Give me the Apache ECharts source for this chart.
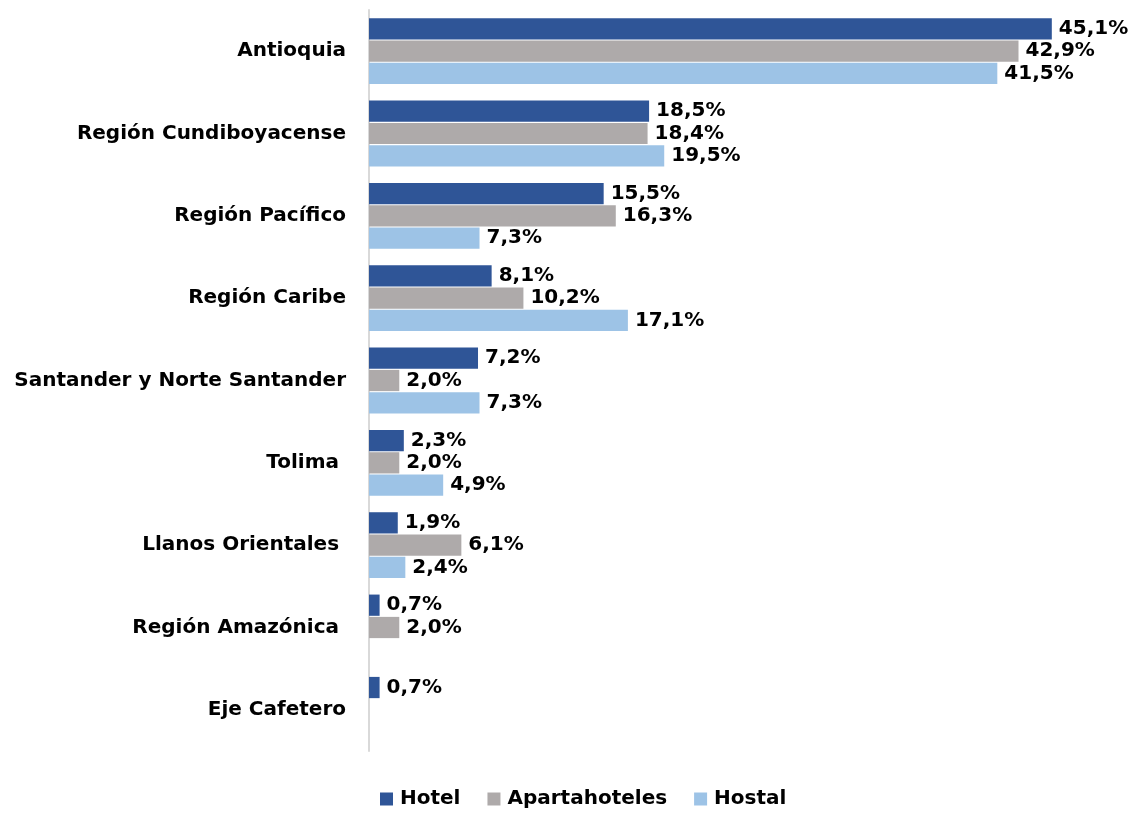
<!DOCTYPE html>
<html>
<head>
<meta charset="utf-8">
<script src="https://cdn.jsdelivr.net/npm/echarts@6/dist/echarts.min.js"></script>
<style>
    html, body { margin: 0; padding: 0; background: #fff; }
    #chart { width: 1140px; height: 814px; }
</style>
</head>
<body>
<div id="chart"></div>
<script>
    var categories = ['Antioquia', 'Región Cundiboyacense', 'Región Pacífico', 'Región Caribe',
        'Santander y Norte Santander', 'Tolima ', 'Llanos Orientales ', 'Región Amazónica ', 'Eje Cafetero']
    var hotel = [45.1, 18.5, 15.5, 8.1, 7.2, 2.3, 1.9, 0.7, 0.7]
    var apartahoteles = [42.9, 18.4, 16.3, 10.2, 2.0, 2.0, 6.1, 2.0, null]
    var hostal = [41.5, 19.5, 7.3, 17.1, 7.3, 4.9, 2.4, null, null]

    var font = "'Century Gothic', 'DejaVu Sans', sans-serif"

    function barSeries(name, data, color) {
        return {
            name: name,
            type: 'bar',
            data: data,
            barGap: '5%',
            barCategoryGap: '20%',
            itemStyle: { color: color },
            label: {
                show: true,
                position: 'right',
                distance: 7,
                color: '#000',
                fontFamily: font,
                fontWeight: 'bold',
                fontSize: 20,
                formatter: function (p) {
                    return p.value == null ? '' : p.value.toFixed(1).replace('.', ',') + '%'
                }
            }
        }
    }

    var chart = echarts.init(document.getElementById('chart'))
    chart.setOption({
        animation: false,
        textStyle: { fontFamily: font },
        grid: { left: 369, right: 14, top: 10, bottom: 63 },
        legend: {
            bottom: 0,
            left: 375,
            itemWidth: 13,
            itemHeight: 13,
            itemGap: 27,
            icon: 'rect',
            textStyle: { fontFamily: font, fontWeight: 'bold', fontSize: 20, color: '#000', padding: [0, 0, 0, 2] },
            data: ['Hotel', 'Apartahoteles', 'Hostal']
        },
        xAxis: {
            type: 'value',
            min: 0,
            max: 50,
            show: false
        },
        yAxis: {
            type: 'category',
            inverse: true,
            data: categories,
            axisLine: { lineStyle: { color: '#d9d9d9', width: 2 } },
            axisTick: { show: false },
            axisLabel: {
                margin: 23,
                color: '#000',
                fontFamily: font,
                fontWeight: 'bold',
                fontSize: 20
            }
        },
        series: [
            barSeries('Hotel', hotel, '#2F5597'),
            barSeries('Apartahoteles', apartahoteles, '#AEAAAA'),
            barSeries('Hostal', hostal, '#9DC3E6')
        ]
    })
</script>
</body>
</html>
